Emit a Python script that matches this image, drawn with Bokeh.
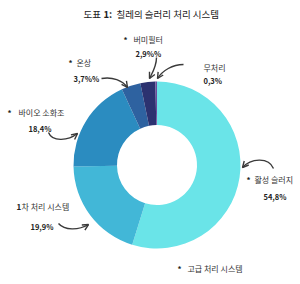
import numpy as np
from bokeh.plotting import figure
from bokeh.models import Range1d, Label, Arrow, OpenHead, ColumnDataSource
from bokeh.embed import file_html
from bokeh.resources import INLINE

W, H = 300, 284
categories = ["활성 슬러지", "1차 처리 시스템", "바이오 소화조", "온상", "버미필터", "무처리"]
shares = [54.8, 19.9, 18.4, 3.7, 2.9, 0.3]
share_labels = ["54,8%", "19,9%", "18,4%", "3,7%%", "2,9%%", "0,3%"]
colors = ["#6ae4e8", "#42b7d7", "#2b8cc0", "#2e62a0", "#2c3270", "#6a4c9c"]

FONT = "Noto Sans CJK KR"
TXT = "#333333"

p = figure(width=W, height=H, output_backend="svg", toolbar_location=None,
           x_range=Range1d(0, W), y_range=Range1d(0, H), min_border=0)
p.axis.visible = False
p.grid.visible = False
p.outline_line_color = None
p.background_fill_color = "white"

def Y(y):
    return H - y

cx, cy = 156.5, 164.5
r_in, r_out = 40, 83.5
vals = np.array(shares) / sum(shares)
ce = np.cumsum(vals)
cs = ce - vals
src = ColumnDataSource(dict(
    start=np.pi / 2 - 2 * np.pi * ce,
    end=np.pi / 2 - 2 * np.pi * cs,
    color=colors, cat=categories))
p.annular_wedge(x=cx, y=Y(cy), inner_radius=r_in, outer_radius=r_out,
                start_angle="start", end_angle="end", color="color",
                line_color=None, source=src)

def lab(x, y, t, size="8px", bold=False, color=TXT):
    p.add_layout(Label(x=x, y=Y(y), text=t, text_font=FONT, text_font_size=size,
                       text_font_style="bold" if bold else "normal",
                       text_color=color, text_baseline="middle", text_align="left"))

# title
lab(83, 13, "도표", "9.5px", False, "#222222")
lab(103, 13, "1:", "9.5px", True, "#222222")
lab(116, 13, "칠레의 슬러리 처리 시스템", "9.5px", False, "#222222")

# category labels
lab(123, 39, "*", "8px", True, "#222222"); lab(133, 39, "버미필터")
lab(135, 53, share_labels[4], "7.5px", True, "#222222")
lab(68, 62, "*", "8px", True, "#222222"); lab(76, 62, "온상")
lab(73, 78, share_labels[3], "7.5px", True, "#222222")
lab(203, 67, "무처리")
lab(203, 80, share_labels[5], "7.5px", True, "#222222")
lab(7, 112, "*", "8px", True, "#222222"); lab(18, 112, "바이오 소화조")
lab(28, 128, share_labels[2], "7.5px", True, "#222222")
lab(16, 206, "1", "8px", True, "#222222"); lab(21, 206, "차 처리 시스템")
lab(30, 226, share_labels[1], "7.5px", True, "#222222")
lab(246, 179, "*", "8px", True, "#222222"); lab(254, 179, "활성 슬러지")
lab(263, 196, share_labels[0], "7.5px", True, "#222222")
lab(177, 268, "*", "8px", True, "#222222"); lab(187, 268, "고급 처리 시스템")

# curved arrows
AC = "#3a3a3a"
def curve(x0, y0, cx0, cy0, cx1, cy1, x1, y1):
    p.bezier(x0=x0, y0=Y(y0), x1=x1, y1=Y(y1), cx0=cx0, cy0=Y(cy0),
             cx1=cx1, cy1=Y(cy1), line_color=AC, line_width=1.4)
    dx, dy = x1 - cx1, y1 - cy1
    n = np.hypot(dx, dy)
    p.add_layout(Arrow(end=OpenHead(size=6, line_color=AC, line_width=1.4),
                       x_start=x1 - dx / n * 2, y_start=Y(y1 - dy / n * 2),
                       x_end=x1, y_end=Y(y1), line_color=AC, line_width=1.4))

curve(156, 57, 156, 66, 152, 72, 149, 78)      # 버미필터
curve(183, 64, 172, 64, 162, 70, 157, 78)      # 무처리
curve(101, 78, 112, 76, 122, 80, 127, 87)      # 온상
curve(48, 132, 52, 142, 68, 140, 77, 133)      # 바이오
curve(58, 223, 64, 230, 78, 230, 88, 224)      # 1차
curve(273, 168, 268, 156, 250, 158, 242, 167)  # 활성

open("out.html", "w").write(file_html(p, INLINE))
